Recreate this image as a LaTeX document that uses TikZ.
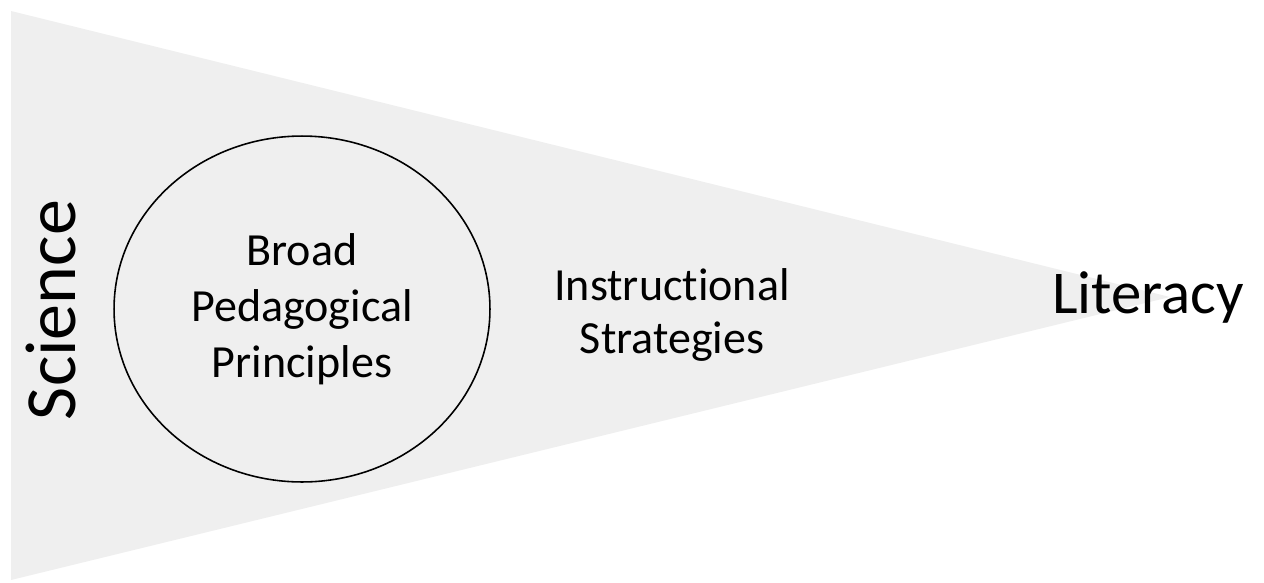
\documentclass[tikz,border=0pt]{standalone}
\usepackage{fontspec}
\setmainfont[Ligatures=NoCommon]{Carlito}
\usetikzlibrary{positioning, shapes.geometric}
\definecolor{conegrey}{RGB}{239,239,239}

\begin{document}
\begin{tikzpicture}
    [
        x=0.02cm, y=-0.02cm,
        cone/.style={fill=conegrey, draw=none},
        principle_node/.style={ellipse, draw=black, line width=0.9pt, fill=conegrey, inner sep=0pt, minimum width=7.52cm, minimum height=6.92cm, align=center, font=\fontsize{26.2}{31.9}\selectfont},
        strategy_node/.style={inner sep=0pt, align=center, font=\fontsize{26.2}{30}\selectfont},
        end_node/.style={inner sep=0pt, anchor=base},
    ]
        \useasboundingbox (0,0) rectangle (1264,582) ;
        \coordinate (wide_top) at (11,11) ;
        \coordinate (wide_bottom) at (11,580) ;
        \coordinate (tip) at (1170,297) ;
        \fill[cone] (wide_top) -- (tip) -- (wide_bottom) -- cycle ;
        \node[principle_node] (principles) at (302,309) {Broad\\Pedagogical\\Principles} ;
        \node[strategy_node] (strategies) at (672,315) {Instructional\\Strategies} ;
        \node[end_node, rotate=90, font=\fontsize{41}{48}\selectfont] (science) at (75,310) {Science} ;
        \node[end_node, font=\fontsize{34.6}{40}\selectfont] (literacy) at (1148,313) {Literacy} ;
    \end{tikzpicture}
\end{document}
